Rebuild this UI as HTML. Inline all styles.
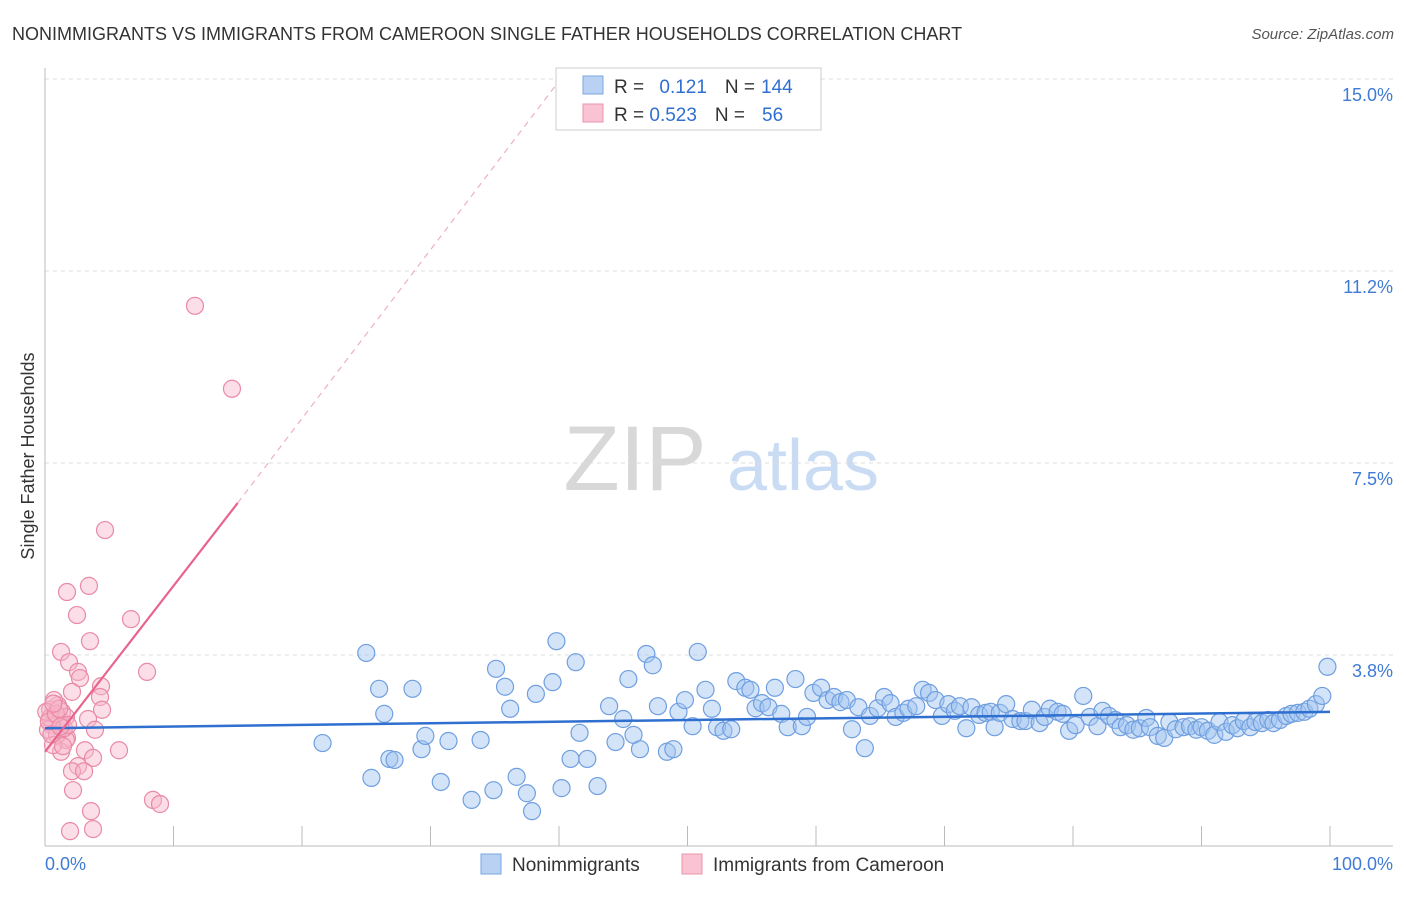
<!DOCTYPE html>
<html><head><meta charset="utf-8">
<style>
body{margin:0;background:#fff;font-family:"Liberation Sans",sans-serif;}
svg text{font-family:"Liberation Sans",sans-serif;}
</style></head>
<body>
<svg id="chart" width="1406" height="892" viewBox="0 0 1406 892" xmlns="http://www.w3.org/2000/svg">
<text x="12" y="40" font-size="18" fill="#333">NONIMMIGRANTS VS IMMIGRANTS FROM CAMEROON SINGLE FATHER HOUSEHOLDS CORRELATION CHART</text>
<text x="1394" y="39" font-size="15" fill="#555" font-style="italic" text-anchor="end">Source: ZipAtlas.com</text>
<text transform="translate(34,456) rotate(-90)" font-size="18" fill="#333" text-anchor="middle">Single Father Households</text>
<g>
<text x="635" y="490" font-size="92" fill="#d8d8d8" font-family="Liberation Serif" text-anchor="middle">ZIP</text>
<text x="803" y="490" font-size="72" fill="#c9dcf3" text-anchor="middle">atlas</text>
</g>
<g id="grid"></g>
<g id="marks"></g>
<g>
<rect x="556" y="68" width="265" height="62" fill="#fff" stroke="#ccc"/>
<rect x="583" y="76" width="20" height="18" fill="#b9d2f3" stroke="#7aa6e0"/>
<rect x="583" y="104" width="20" height="18" fill="#f9c3d3" stroke="#ea94ae"/>
<text x="614" y="93" font-size="19" fill="#333">R = <tspan fill="#2f6fd0" dx="10">0.121</tspan><tspan fill="#333" dx="18">N =</tspan><tspan fill="#2f6fd0" dx="6">144</tspan></text>
<text x="614" y="121" font-size="19" fill="#333">R = <tspan fill="#2f6fd0">0.523</tspan><tspan fill="#333" dx="18">N =</tspan><tspan fill="#2f6fd0" dx="17">56</tspan></text>
</g>
<g>
<rect x="481" y="854" width="20" height="20" fill="#b9d2f3" stroke="#7aa6e0"/>
<text x="512" y="871" font-size="19" fill="#333">Nonimmigrants</text>
<rect x="682" y="854" width="20" height="20" fill="#f9c3d3" stroke="#ea94ae"/>
<text x="713" y="871" font-size="19" fill="#333">Immigrants from Cameroon</text>
</g>
</svg>
<script>
const yTicks=[3.75,7.5,11.25,15];
const yTickLabels=["3.8%","7.5%","11.2%","15.0%"];
const xTicks=[0,10,20,30,40,50,60,70,80,90,100];
const blueX=[21.6,25.0,25.4,26.0,26.4,26.8,27.2,28.6,29.3,29.6,30.8,31.4,33.2,33.9,34.9,35.1,35.8,36.2,36.7,37.5,37.9,38.2,39.5,39.8,40.2,40.9,41.3,41.6,42.2,43.0,43.9,44.4,45.0,45.4,45.8,46.3,46.8,47.3,47.7,48.4,48.9,49.3,49.8,50.4,50.8,51.4,51.9,52.3,52.8,53.4,53.8,54.5,54.9,55.3,55.8,56.3,56.8,57.3,57.8,58.4,58.9,59.3,59.8,60.4,60.9,61.4,61.9,62.4,62.8,63.3,63.8,64.2,64.8,65.3,65.8,66.2,66.8,67.2,67.8,68.3,68.8,69.3,69.8,70.3,70.8,71.2,71.7,72.1,72.7,73.2,73.6,73.9,74.3,74.8,75.3,75.9,76.3,76.8,77.4,77.8,78.2,78.8,79.2,79.7,80.2,80.8,81.3,81.9,82.3,82.8,83.3,83.7,84.2,84.7,85.2,85.7,86.0,86.6,87.1,87.5,88.0,88.6,89.1,89.6,90.0,90.5,91.0,91.4,91.9,92.4,92.8,93.3,93.8,94.2,94.7,95.2,95.6,96.1,96.6,97.0,97.5,98.0,98.4,98.9,99.4,99.8];
const blueY=[2.03,3.79,1.35,3.09,2.60,1.72,1.70,3.09,1.91,2.17,1.27,2.07,0.92,2.09,1.11,3.48,3.13,2.70,1.37,1.05,0.70,2.99,3.22,4.02,1.15,1.72,3.61,2.23,1.72,1.19,2.75,2.05,2.50,3.28,2.19,1.91,3.77,3.55,2.75,1.86,1.91,2.64,2.87,2.36,3.81,3.07,2.70,2.34,2.27,2.30,3.24,3.11,3.07,2.71,2.81,2.73,3.11,2.60,2.34,3.28,2.36,2.54,3.01,3.11,2.87,2.93,2.83,2.87,2.30,2.73,1.93,2.56,2.71,2.93,2.81,2.54,2.62,2.70,2.75,3.07,3.01,2.87,2.56,2.79,2.66,2.75,2.32,2.73,2.58,2.62,2.64,2.34,2.62,2.79,2.50,2.46,2.46,2.68,2.42,2.54,2.70,2.64,2.60,2.27,2.38,2.95,2.54,2.36,2.66,2.56,2.48,2.34,2.38,2.29,2.32,2.52,2.34,2.17,2.13,2.44,2.30,2.34,2.36,2.29,2.34,2.27,2.19,2.44,2.25,2.38,2.32,2.46,2.34,2.44,2.42,2.48,2.42,2.48,2.56,2.60,2.62,2.64,2.70,2.79,2.95,3.52];
const pinkX=[11.67,14.55,4.67,3.42,1.71,2.49,6.69,1.25,3.50,1.87,2.57,2.72,7.94,2.10,4.36,4.28,4.44,3.35,3.89,1.71,5.76,3.11,1.25,1.63,3.74,2.57,2.10,3.04,2.18,3.58,8.40,8.95,1.95,3.74,0.39,0.78,1.17,0.54,1.01,0.23,1.32,1.63,0.70,0.93,1.48,0.39,0.10,0.62,1.40,1.79,0.30,0.85,1.10,0.50,1.20,0.65];
const pinkY=[10.57,8.95,6.19,5.10,4.98,4.53,4.45,3.81,4.02,3.61,3.42,3.30,3.42,3.03,3.14,2.93,2.68,2.50,2.29,2.13,1.89,1.89,1.86,2.09,1.74,1.58,1.48,1.48,1.11,0.70,0.92,0.84,0.31,0.35,2.68,2.58,2.48,2.38,2.77,2.29,2.64,2.54,2.87,2.19,2.32,2.52,2.64,1.99,1.97,2.38,2.45,2.60,2.70,2.20,2.35,2.80];
const blueTrend=[[0,2.32],[100,2.64]];
const pinkTrend=[[0,1.86],[15,6.72]];
const pinkTrendExt=[[15,6.72],[40,14.96]];

const NS="http://www.w3.org/2000/svg";
const xs=v=>45+v*12.85;
const ys=v=>847-v*51.2;
function mk(tag,attrs,parent){const e=document.createElementNS(NS,tag);for(const k in attrs)e.setAttribute(k,attrs[k]);parent.appendChild(e);return e;}
const grid=document.getElementById('grid'),marks=document.getElementById('marks');
yTicks.forEach((t,i)=>{
  const l=mk('line',{x1:45,x2:1393,y1:ys(t),y2:ys(t),stroke:'#ddd','stroke-dasharray':'4,4'},grid);
  
  
  const tx=mk('text',{x:1393,y:ys(t)+22,'font-size':18,fill:'#3f7bd6','text-anchor':'end'},grid);
  tx.textContent=yTickLabels[i];
  
  
});
const ax=mk('line',{x1:45,x2:45,y1:68,y2:846,stroke:'#bbb'},grid);


const bx=mk('line',{x1:45,x2:1393,y1:846,y2:846,stroke:'#bbb'},grid);


xTicks.forEach(t=>{
  const l=mk('line',{x1:xs(t),x2:xs(t),y1:826,y2:846,stroke:'#bbb'},grid);
  
  
});
const xl0=mk('text',{x:45,y:870,'font-size':18,fill:'#3f7bd6'},grid);xl0.textContent='0.0%';


const xl1=mk('text',{x:1393,y:870,'font-size':18,fill:'#3f7bd6','text-anchor':'end'},grid);xl1.textContent='100.0%';



blueX.forEach((x,i)=>{
  const c=mk('circle',{cx:xs(x),cy:ys(blueY[i]),r:8.5,fill:'rgba(160,196,240,0.45)',stroke:'#6f9fe0','stroke-width':1.2},marks);
  
  
});
pinkX.forEach((x,i)=>{
  const c=mk('circle',{cx:xs(x),cy:ys(pinkY[i]),r:8.5,fill:'rgba(247,182,202,0.45)',stroke:'#e98aa6','stroke-width':1.2},marks);
  
  
});
const bt=mk('line',{x1:xs(blueTrend[0][0]),y1:ys(blueTrend[0][1]),x2:xs(blueTrend[1][0]),y2:ys(blueTrend[1][1]),stroke:'#2f6fd0','stroke-width':2.5},marks);


const pt=mk('line',{x1:xs(pinkTrend[0][0]),y1:ys(pinkTrend[0][1]),x2:xs(pinkTrend[1][0]),y2:ys(pinkTrend[1][1]),stroke:'#e8648c','stroke-width':2.2},marks);


const pe=mk('line',{x1:xs(pinkTrendExt[0][0]),y1:ys(pinkTrendExt[0][1]),x2:xs(pinkTrendExt[1][0]),y2:ys(pinkTrendExt[1][1]),stroke:'#eeb0c2','stroke-width':1.2,'stroke-dasharray':'6,5'},marks);


</script>
</body></html>
